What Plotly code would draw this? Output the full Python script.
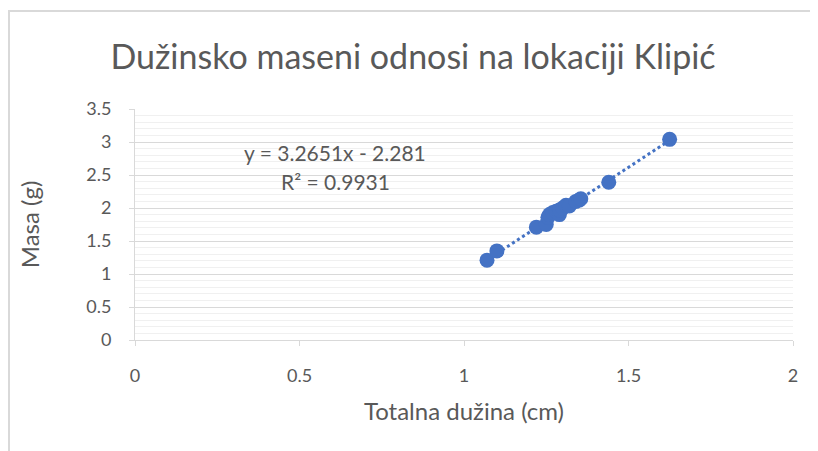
import plotly.graph_objects as go

# Data
duzina_cm = [1.07, 1.10, 1.22, 1.25, 1.255, 1.26, 1.27, 1.28, 1.29, 1.29, 1.30, 1.31,
             1.32, 1.34, 1.35, 1.355, 1.44, 1.625]
masa_g = [1.21, 1.35, 1.71, 1.75, 1.86, 1.90, 1.93, 1.95, 1.90, 1.97, 2.00, 2.04,
          2.03, 2.10, 2.12, 2.14, 2.39, 3.04]

# Trendline coefficients shown in the chart
slope = 3.2651
intercept = -2.281
eq_text = "y = 3.2651x - 2.281"
r2_text = "R² = 0.9931"

title_text = "Dužinsko maseni odnosi na lokaciji Klipić"
x_title = "Totalna dužina (cm)"
y_title = "Masa (g)"

x_ticks = [0, 0.5, 1, 1.5, 2]
y_ticks = [0, 0.5, 1, 1.5, 2, 2.5, 3, 3.5]

blue = "#4472C4"
gray_text = "#595959"
FONT = "Lato"

trend_x = [min(duzina_cm), max(duzina_cm)]
trend_y = [slope * v + intercept for v in trend_x]

fig = go.Figure()
fig.add_trace(go.Scatter(x=trend_x, y=trend_y, mode="lines",
                         line=dict(color=blue, width=3, dash="dot"),
                         hoverinfo="skip", showlegend=False))
fig.add_trace(go.Scatter(x=duzina_cm, y=masa_g, mode="markers",
                         marker=dict(color=blue, size=15, line=dict(width=0)),
                         showlegend=False))

# page body adds an 8px offset; plot area in figure coords: x 127..785, y 101..332
W, H = 810, 443
PL, PR, PT, PB = 127, 785, 101, 332
pw, ph = PR - PL, PB - PT

fig.update_layout(
    width=W, height=H,
    margin=dict(l=PL, r=W - PR, t=PT, b=H - PB, autoexpand=False),
    paper_bgcolor="white", plot_bgcolor="white",
    font=dict(family=FONT, color=gray_text),
    title=dict(text=title_text, x=0.5, xanchor="center", y=1 - 49/H,
               yanchor="middle", font=dict(size=34, color=gray_text, family=FONT)),
    xaxis=dict(range=[0, 2], tickvals=x_ticks, ticktext=[str(v) for v in x_ticks],
               showgrid=False, zeroline=False, automargin=False,
               showline=True, linecolor="#d9d9d9", linewidth=1,
               ticks="outside", ticklen=5, tickcolor="#d9d9d9",
               tickfont=dict(size=18, color=gray_text), ticklabelstandoff=14,
               title=dict(text=x_title, font=dict(size=24, color=gray_text), standoff=18)),
    yaxis=dict(range=[0, 3.5], tickvals=y_ticks, ticktext=[str(v) for v in y_ticks],
               showgrid=True, gridcolor="#d9d9d9", gridwidth=1,
               minor=dict(dtick=0.1, showgrid=True, gridcolor="#f0f0f0", gridwidth=1),
               zeroline=False, automargin=False,
               showline=True, linecolor="#d9d9d9", linewidth=1,
               ticks="outside", ticklen=5, tickcolor="#d9d9d9",
               tickfont=dict(size=18, color=gray_text), ticklabelstandoff=14,
               title=dict(text=y_title, font=dict(size=24, color=gray_text), standoff=39)),
    annotations=[
        dict(text=eq_text, x=(335-135)/658, y=(340-152)/231, xref="paper", yref="paper",
             showarrow=False, xanchor="center", yanchor="middle",
             font=dict(size=21, color=gray_text, family=FONT)),
        dict(text=r2_text, x=(335-135)/658, y=(340-181)/231, xref="paper", yref="paper",
             showarrow=False, xanchor="center", yanchor="middle",
             font=dict(size=21, color=gray_text, family=FONT)),
    ],
    shapes=[dict(type="rect", xref="paper", yref="paper",
                 x0=(1 - PL)/pw, x1=(830 - PL)/pw, y0=(PB - 470)/ph, y1=(PB - 3)/ph,
                 line=dict(color="#d9d9d9", width=2), fillcolor="rgba(0,0,0,0)",
                 layer="below")],
)

fig.write_html("out.html")
